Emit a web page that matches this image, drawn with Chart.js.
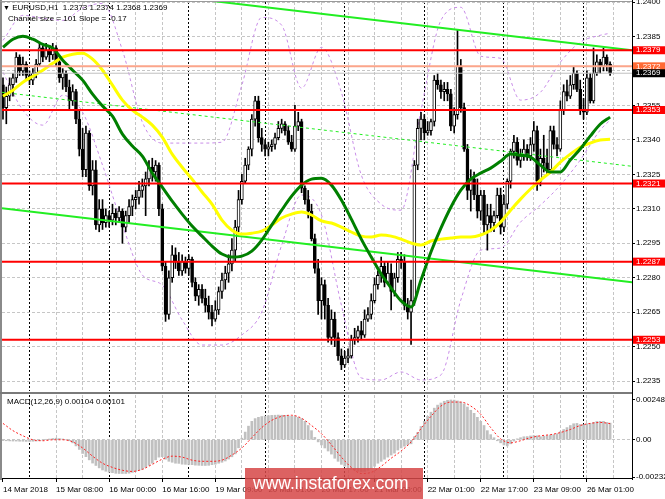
<!DOCTYPE html>
<html>
<head>
<meta charset="utf-8">
<script src="https://cdn.jsdelivr.net/npm/chart.js"></script>
<style>
  html, body { margin: 0; padding: 0; background: #fff; }
  #wrap { position: relative; width: 665px; height: 499px; overflow: hidden; font-family: "Liberation Sans", Arial, sans-serif; }
  #priceBox { position: absolute; left: 0; top: 0; }
  #macdBox { position: absolute; left: 0; top: 393px; }
  .line { position: absolute; }
  .txt { position: absolute; font-size: 8px; line-height: 10px; color: #000; white-space: nowrap; }
  #mark { position: absolute; left: 245px; top: 468px; width: 178px; height: 31px; background: rgba(214, 72, 72, 0.86);
          color: #fff; font-size: 17.5px; line-height: 31px; padding-left: 8px; box-sizing: border-box; white-space: nowrap; }
</style>
</head>
<body>
<div id="wrap">
  <canvas id="priceBox" width="665" height="393"></canvas>
  <canvas id="macdBox" width="665" height="106"></canvas>
  <div class="line" style="left:0;top:0;width:2px;height:480px;background:#8a8a8a"></div>
  <div class="line" style="left:0;top:1px;width:632px;height:1px;background:#9a9a9a"></div>
  <div class="line" style="left:0;top:392px;width:632px;height:2px;background:#7a7a7a"></div>
  <div class="line" style="left:632px;top:0;width:1px;height:480px;background:#000"></div>
  <div class="txt" style="left:3px;top:3px"><span style="font-size:7px">&#9660;</span> EURUSD,H1&nbsp; 1.2373 1.2374 1.2368 1.2369</div>
  <div class="txt" style="left:8px;top:14px">Channel size = 101 Slope = -0.17</div>
  <div class="txt" style="left:7px;top:397px">MACD(12,26,9) 0.00104 0.00101</div>
  <div id="mark">www.instaforex.com</div>
</div>
<script>
// hourly candles, 14 Mar 16:00 .. 26 Mar 09:00 (bar index = position)
const openP = [
  1.2364,1.2354,1.2359,1.2364,1.2367,1.2376,1.2370,1.2373,1.2368,1.2366,
  1.2369,1.2373,1.2380,1.2376,1.2379,1.2377,1.2380,1.2374,1.2367,1.2369,
  1.2363,1.2357,1.2361,1.2349,1.2336,1.2327,1.2343,1.2320,1.2327,1.2303,
  1.2310,1.2304,1.2307,1.2305,1.2308,1.2306,1.2309,1.2302,1.2307,1.2311,
  1.2314,1.2315,1.2318,1.2320,1.2323,1.2328,1.2326,1.2329,1.2310,1.2285,
  1.2264,1.2280,1.2290,1.2287,1.2283,1.2287,1.2284,1.2288,1.2278,1.2272,
  1.2275,1.2271,1.2268,1.2265,1.2262,1.2266,1.2274,1.2279,1.2282,1.2286,
  1.2292,1.2302,1.2314,1.2322,1.2329,1.2336,1.2349,1.2357,1.2341,1.2338,
  1.2336,1.2337,1.2338,1.2341,1.2345,1.2347,1.2344,1.2339,1.2336,1.2346,
  1.2348,1.2319,1.2314,1.2309,1.2297,1.2284,1.2270,1.2277,1.2268,1.2254,
  1.2262,1.2254,1.2246,1.2242,1.2245,1.2246,1.2253,1.2254,1.2257,1.2255,
  1.2262,1.2264,1.2270,1.2277,1.2281,1.2285,1.2278,1.2282,1.2274,1.2280,
  1.2288,1.2287,1.2268,1.2265,1.2270,1.2329,1.2345,1.2349,1.2343,1.2344,
  1.2348,1.2366,1.2364,1.2361,1.2362,1.2360,1.2346,1.2351,1.2372,1.2354,
  1.2336,1.2318,1.2323,1.2316,1.2309,1.2316,1.2303,1.2307,1.2304,1.2307,
  1.2316,1.2302,1.2312,1.2322,1.2335,1.2339,1.2331,1.2333,1.2336,1.2333,
  1.2338,1.2344,1.2322,1.2332,1.2330,1.2327,1.2344,1.2338,1.2336,1.2353,
  1.2361,1.2359,1.2364,1.2369,1.2362,1.2353,1.2352,1.2367,1.2357,1.2369,
  1.2374,1.2372,1.2376,1.2373
];
const highP = [
  1.2367,1.2363,1.2367,1.2369,1.2378,1.2377,1.2376,1.2374,1.2370,1.2371,
  1.2375,1.2382,1.2381,1.2382,1.2381,1.2382,1.2381,1.2375,1.2371,1.2370,
  1.2366,1.2364,1.2362,1.2353,1.2345,1.2346,1.2344,1.2331,1.2331,1.2314,
  1.2314,1.2310,1.2309,1.2312,1.2310,1.2311,1.2310,1.2309,1.2314,1.2316,
  1.2318,1.2322,1.2323,1.2326,1.2331,1.2332,1.2331,1.2330,1.2312,1.2287,
  1.2283,1.2294,1.2293,1.2291,1.2290,1.2289,1.2290,1.2289,1.2280,1.2277,
  1.2277,1.2275,1.2272,1.2268,1.2270,1.2276,1.2282,1.2285,1.2290,1.2297,
  1.2305,1.2318,1.2325,1.2332,1.2337,1.2351,1.2359,1.2359,1.2345,1.2340,
  1.2339,1.2340,1.2343,1.2348,1.2349,1.2348,1.2346,1.2342,1.2355,1.2352,
  1.2349,1.2320,1.2318,1.2312,1.2299,1.2288,1.2280,1.2279,1.2271,1.2266,
  1.2265,1.2256,1.2249,1.2248,1.2249,1.2255,1.2258,1.2259,1.2261,1.2266,
  1.2267,1.2273,1.2280,1.2283,1.2289,1.2287,1.2287,1.2286,1.2282,1.2291,
  1.2291,1.2290,1.2271,1.2279,1.2331,1.2349,1.2352,1.2351,1.2348,1.2349,
  1.2368,1.2369,1.2366,1.2365,1.2365,1.2362,1.2354,1.2388,1.2375,1.2356,
  1.2338,1.2327,1.2326,1.2323,1.2318,1.2318,1.2312,1.2312,1.2309,1.2319,
  1.2319,1.2316,1.2323,1.2336,1.2342,1.2341,1.2336,1.2340,1.2338,1.2341,
  1.2348,1.2346,1.2336,1.2342,1.2336,1.2346,1.2346,1.2341,1.2357,1.2364,
  1.2366,1.2368,1.2372,1.2370,1.2366,1.2358,1.2370,1.2369,1.2380,1.2377,
  1.2375,1.2380,1.2377,1.2374
];
const lowP = [
  1.2349,1.2347,1.2357,1.2359,1.2365,1.2368,1.2368,1.2366,1.2364,1.2364,
  1.2367,1.2372,1.2374,1.2375,1.2374,1.2375,1.2372,1.2365,1.2362,1.2361,
  1.2353,1.2355,1.2347,1.2333,1.2324,1.2324,1.2318,1.2316,1.2301,1.2300,
  1.2301,1.2302,1.2302,1.2303,1.2303,1.2304,1.2295,1.2300,1.2304,1.2307,
  1.2310,1.2312,1.2315,1.2307,1.2320,1.2322,1.2322,1.2307,1.2283,1.2261,
  1.2262,1.2278,1.2284,1.2281,1.2281,1.2282,1.2281,1.2276,1.2270,1.2268,
  1.2269,1.2265,1.2262,1.2259,1.2261,1.2264,1.2271,1.2275,1.2278,1.2283,
  1.2287,1.2300,1.2312,1.2321,1.2327,1.2333,1.2346,1.2339,1.2335,1.2333,
  1.2333,1.2335,1.2336,1.2340,1.2343,1.2342,1.2338,1.2335,1.2335,1.2344,
  1.2317,1.2312,1.2306,1.2296,1.2282,1.2264,1.2262,1.2262,1.2252,1.2251,
  1.2250,1.2244,1.2240,1.2241,1.2243,1.2245,1.2251,1.2252,1.2253,1.2254,
  1.2261,1.2262,1.2269,1.2275,1.2278,1.2276,1.2277,1.2266,1.2272,1.2278,
  1.2284,1.2266,1.2262,1.2251,1.2268,1.2327,1.2340,1.2340,1.2342,1.2342,
  1.2346,1.2362,1.2358,1.2357,1.2357,1.2344,1.2343,1.2349,1.2352,1.2335,
  1.2314,1.2309,1.2314,1.2306,1.2305,1.2299,1.2292,1.2300,1.2300,1.2306,
  1.2299,1.2300,1.2310,1.2319,1.2332,1.2329,1.2328,1.2331,1.2331,1.2331,
  1.2335,1.2318,1.2320,1.2326,1.2325,1.2326,1.2336,1.2333,1.2335,1.2351,
  1.2357,1.2358,1.2362,1.2361,1.2351,1.2349,1.2351,1.2356,1.2356,1.2368,
  1.2369,1.2370,1.2370,1.2368
];
const closeP = [
  1.2354,1.2359,1.2364,1.2367,1.2376,1.2370,1.2373,1.2368,1.2366,1.2369,
  1.2373,1.2380,1.2376,1.2379,1.2377,1.2380,1.2374,1.2367,1.2369,1.2363,
  1.2357,1.2361,1.2349,1.2336,1.2327,1.2343,1.2320,1.2327,1.2303,1.2310,
  1.2304,1.2307,1.2305,1.2308,1.2306,1.2309,1.2302,1.2307,1.2311,1.2314,
  1.2315,1.2318,1.2320,1.2323,1.2328,1.2326,1.2329,1.2310,1.2285,1.2264,
  1.2280,1.2290,1.2287,1.2283,1.2287,1.2284,1.2288,1.2278,1.2272,1.2275,
  1.2271,1.2268,1.2265,1.2262,1.2266,1.2274,1.2279,1.2282,1.2286,1.2292,
  1.2302,1.2314,1.2322,1.2329,1.2336,1.2349,1.2357,1.2341,1.2338,1.2336,
  1.2337,1.2338,1.2341,1.2345,1.2347,1.2344,1.2339,1.2336,1.2346,1.2348,
  1.2319,1.2314,1.2309,1.2297,1.2284,1.2270,1.2277,1.2268,1.2254,1.2262,
  1.2254,1.2246,1.2242,1.2245,1.2246,1.2253,1.2254,1.2257,1.2255,1.2262,
  1.2264,1.2270,1.2277,1.2281,1.2285,1.2278,1.2282,1.2274,1.2280,1.2288,
  1.2287,1.2268,1.2265,1.2270,1.2329,1.2345,1.2349,1.2343,1.2344,1.2348,
  1.2366,1.2364,1.2361,1.2362,1.2360,1.2346,1.2351,1.2372,1.2354,1.2336,
  1.2318,1.2323,1.2316,1.2309,1.2316,1.2303,1.2307,1.2304,1.2307,1.2316,
  1.2302,1.2312,1.2322,1.2335,1.2339,1.2331,1.2333,1.2336,1.2333,1.2338,
  1.2344,1.2322,1.2332,1.2330,1.2327,1.2344,1.2338,1.2336,1.2353,1.2361,
  1.2359,1.2364,1.2369,1.2362,1.2353,1.2352,1.2367,1.2357,1.2369,1.2374,
  1.2372,1.2376,1.2373,1.2369
];

// moving averages, read every 3rd bar
const maBars = [0,3,6,9,12,15,18,21,24,27,30,33,36,39,42,45,48,51,54,57,60,63,66,69,72,75,78,81,84,87,
  90,93,96,99,102,105,108,111,114,117,120,123,126,129,132,135,138,141,144,147,150,153,156,159,162,165,168,171,174,177,180,183];
const maGreen = [
  1.23803,1.23838,1.23851,1.23838,1.23816,1.23799,1.23747,1.23703,1.23660,1.23599,
  1.23547,1.23503,1.23425,1.23373,1.23329,1.23255,1.23194,1.23133,1.23077,1.23025,
  1.22981,1.22938,1.22903,1.22890,1.22894,1.22916,1.22964,1.23029,1.23094,1.23155,
  1.23203,1.23229,1.23233,1.23203,1.23138,1.23055,1.22968,1.22890,1.22816,1.22755,
  1.22699,1.22673,1.22790,1.22912,1.23016,1.23107,1.23181,1.23229,1.23255,1.23277,
  1.23307,1.23338,1.23333,1.23325,1.23290,1.23260,1.23260,1.23312,1.23360,1.23416,
  1.23468,1.23499
];
const maYellow = [
  1.23590,1.23616,1.23651,1.23677,1.23703,1.23733,1.23760,1.23773,1.23777,1.23751,
  1.23703,1.23638,1.23573,1.23529,1.23499,1.23464,1.23412,1.23338,1.23281,1.23229,
  1.23173,1.23120,1.23051,1.23007,1.22990,1.22994,1.23003,1.23029,1.23060,1.23077,
  1.23086,1.23073,1.23047,1.23038,1.23020,1.22999,1.22981,1.22977,1.22986,1.22981,
  1.22968,1.22951,1.22942,1.22960,1.22968,1.22973,1.22977,1.22977,1.22986,1.23007,
  1.23042,1.23094,1.23142,1.23186,1.23225,1.23260,1.23303,1.23338,1.23368,1.23386,
  1.23399,1.23403
];

// band lines, read every 6th bar
const bandBars = [0,6,12,18,24,30,36,42,48,54,60,66,72,78,84,90,96,102,108,114,120,126,132,138,144,150,156,162,168,174,180,183];
const bandUpper = [
  1.23833,1.23942,1.23929,1.23920,1.23973,1.23994,1.23790,1.23477,1.23386,1.23386,
  1.23386,1.23390,1.23638,1.23933,1.23899,1.23625,1.23803,1.23607,1.23247,1.23120,
  1.23094,1.23529,1.23920,1.23977,1.23764,1.23755,1.23573,1.23607,1.23738,1.23825,
  1.23855,1.23864
];
const bandLower = [
  1.23694,1.23529,1.23464,1.23594,1.23520,1.23290,1.23029,1.22812,1.22768,1.22616,
  1.22507,1.22507,1.22551,1.22651,1.22942,1.23160,1.23073,1.22681,1.22364,1.22355,
  1.22390,1.22355,1.22377,1.22703,1.22920,1.22929,1.23042,1.23116,1.23203,1.23312,
  1.23442,1.23486
];

// channel (left edge, right edge)
const chanBars = [-0.3, 189.6];
const chanUpper = [1.24112, 1.23790];
const chanMiddle = [1.23607, 1.23285];
const chanLower = [1.23102, 1.22780];

const redLevels = [1.2379, 1.2353, 1.2321, 1.2287, 1.2253];
const askLevel = 1.2372;
const bidLevel = 1.2369;
const priceTicks = [1.2400, 1.2385, 1.2370, 1.2355, 1.2340, 1.2325, 1.2310, 1.2295, 1.2280, 1.2265, 1.2250, 1.2235];

// MACD(12,26,9)
const macdHist = [
  -0.00005,-0.00006,-0.00007,-0.00008,-0.00008,-0.00009,-0.00009,-0.00010,-0.00010,-0.00009,
  -0.00008,-0.00005,-0.00002,0.00002,0.00005,0.00008,0.00010,0.00008,0.00005,0.00000,
  -0.00006,-0.00019,-0.00038,-0.00060,-0.00085,-0.00105,-0.00125,-0.00145,-0.00160,-0.00175,
  -0.00188,-0.00196,-0.00202,-0.00205,-0.00209,-0.00210,-0.00210,-0.00210,-0.00208,-0.00203,
  -0.00197,-0.00190,-0.00184,-0.00172,-0.00159,-0.00146,-0.00125,-0.00108,-0.00105,-0.00121,
  -0.00134,-0.00140,-0.00146,-0.00147,-0.00152,-0.00153,-0.00154,-0.00155,-0.00158,-0.00159,
  -0.00160,-0.00160,-0.00159,-0.00155,-0.00152,-0.00146,-0.00140,-0.00132,-0.00120,-0.00106,
  -0.00088,-0.00050,0.00010,0.00048,0.00085,0.00115,0.00132,0.00140,0.00145,0.00147,
  0.00150,0.00152,0.00153,0.00154,0.00153,0.00152,0.00149,0.00146,0.00145,0.00140,
  0.00132,0.00115,0.00089,0.00057,0.00015,-0.00013,-0.00032,-0.00051,-0.00070,-0.00089,
  -0.00115,-0.00134,-0.00153,-0.00165,-0.00178,-0.00184,-0.00190,-0.00196,-0.00198,-0.00197,
  -0.00190,-0.00178,-0.00165,-0.00146,-0.00134,-0.00121,-0.00108,-0.00095,-0.00083,-0.00064,
  -0.00051,-0.00040,-0.00032,-0.00025,0.00019,0.00045,0.00083,0.00115,0.00146,0.00172,
  0.00197,0.00216,0.00229,0.00240,0.00246,0.00248,0.00247,0.00242,0.00235,0.00223,
  0.00204,0.00184,0.00165,0.00140,0.00115,0.00089,0.00057,0.00032,0.00013,-0.00006,
  -0.00019,-0.00032,-0.00038,-0.00025,-0.00008,0.00006,0.00013,0.00019,0.00020,0.00024,
  0.00026,0.00025,0.00019,0.00022,0.00025,0.00030,0.00032,0.00038,0.00050,0.00064,
  0.00076,0.00089,0.00100,0.00102,0.00095,0.00094,0.00100,0.00102,0.00108,0.00114,
  0.00115,0.00115,0.00108,0.00104
];
const macdSignal = [
  0.00102,0.00057,0.00025,0.00000,-0.00006,0.00000,0.00000,-0.00013,-0.00051,-0.00102,
  -0.00146,-0.00172,-0.00190,-0.00197,-0.00184,-0.00153,-0.00121,-0.00102,-0.00108,-0.00127,
  -0.00134,-0.00134,-0.00127,-0.00095,-0.00051,0.00013,0.00076,0.00121,0.00146,0.00153,
  0.00134,0.00089,0.00038,-0.00032,-0.00108,-0.00172,-0.00210,-0.00203,-0.00165,-0.00115,
  -0.00070,-0.00013,0.00070,0.00146,0.00210,0.00235,0.00235,0.00210,0.00159,0.00076,
  0.00006,-0.00019,-0.00006,0.00013,0.00025,0.00032,0.00045,0.00064,0.00089,0.00102,
  0.00108,0.00101
];
const macdTicks = [0.00248, 0, -0.00232];

// time axis
const timeLabels = ['14 Mar 2018', '15 Mar 08:00', '16 Mar 00:00', '16 Mar 16:00', '19 Mar 09:00', '20 Mar 01:00',
  '20 Mar 17:00', '21 Mar 09:00', '22 Mar 01:00', '22 Mar 17:00', '23 Mar 09:00', '26 Mar 01:00'];
const gridBars = [0,8,16,24,32,40,48,56,64,72,80,88,96,104,112,120,128,136,144,152,160,168,176,184];
const sepBars = [8,32,56,79,103,127,151,175];

Chart.defaults.font.family = '"Liberation Sans", Arial, sans-serif';
Chart.defaults.font.size = 8;
Chart.defaults.color = '#000';
Chart.defaults.animation = false;
Chart.defaults.events = [];
Chart.defaults.plugins.legend.display = false;
Chart.defaults.plugins.tooltip.enabled = false;

const xMin = -0.3, xMax = 189.6;
const xTicks = [...new Set(gridBars.concat(sepBars))].sort((a, b) => a - b);

function vGridColor(ctx) {
  if (!ctx.tick) return '#c6c6c6';
  const v = ctx.tick.value;
  if (sepBars.includes(v)) return '#000';
  if (v === 0) return 'rgba(0,0,0,0)';
  return '#c6c6c6';
}
function vGridDash(ctx) {
  if (!ctx.tick) return [];
  return sepBars.includes(ctx.tick.value) ? [2, 2] : [3, 2];
}
function hLine(v) {
  return [{ x: xMin, y: v }, { x: xMax, y: v }];
}
function pairs(xs, ys) {
  return xs.map((x, i) => ({ x: x, y: ys[i] }));
}
function noPadX(s) { s.paddingLeft = 0; s.paddingRight = 0; }
function noPadY(s) { s.width = 33; s.paddingTop = 0; s.paddingBottom = 0; }

const bars = closeP.map((c, i) => i);
const wickData = bars.map(i => ({ x: i, y: [lowP[i], highP[i]] }));
const bodyData = bars.map(i => {
  const lo = Math.min(openP[i], closeP[i]);
  const hi = Math.max(openP[i], closeP[i]);
  return { x: i, y: [lo, hi === lo ? hi + 0.00002 : hi] };
});
const bodyFill = bars.map(i => (closeP[i] >= openP[i] ? '#ffffff' : '#000000'));

const levelTicks = redLevels.concat([askLevel, bidLevel]);
const levelBox = redLevels.map(() => '#ff0000').concat(['#ff6a35', '#000000']);

const priceDatasets = [
  { type: 'line', data: pairs(bandBars, bandUpper), borderColor: '#c88ce8', borderWidth: 1, borderDash: [3, 3],
    pointRadius: 0, cubicInterpolationMode: 'monotone', order: 40 },
  { type: 'line', data: pairs(bandBars, bandLower), borderColor: '#c88ce8', borderWidth: 1, borderDash: [3, 3],
    pointRadius: 0, cubicInterpolationMode: 'monotone', order: 40 },
  { type: 'bar', data: wickData, backgroundColor: '#000', barThickness: 1, grouped: false, order: 30 },
  { type: 'bar', data: bodyData, backgroundColor: bodyFill, borderColor: '#000', borderWidth: 1,
    borderSkipped: false, barThickness: 3, grouped: false, order: 29 },
  { type: 'line', data: pairs(chanBars, chanMiddle), borderColor: '#22ee22', borderWidth: 1, borderDash: [3, 3], pointRadius: 0, order: 20 },
  { type: 'line', data: pairs(chanBars, chanUpper), borderColor: '#22ee22', borderWidth: 2, pointRadius: 0, order: 20 },
  { type: 'line', data: pairs(chanBars, chanLower), borderColor: '#22ee22', borderWidth: 2, pointRadius: 0, order: 20 },
  { type: 'line', data: pairs(maBars, maYellow), borderColor: '#ffff00', borderWidth: 3, pointRadius: 0,
    cubicInterpolationMode: 'monotone', order: 12 },
  { type: 'line', data: pairs(maBars, maGreen), borderColor: '#007f00', borderWidth: 3, pointRadius: 0,
    cubicInterpolationMode: 'monotone', order: 11 },
  { type: 'line', data: hLine(bidLevel), borderColor: '#c0c0c0', borderWidth: 1, pointRadius: 0, order: 6 },
  { type: 'line', data: hLine(askLevel), borderColor: '#fba58a', borderWidth: 2, pointRadius: 0, order: 5 }
].concat(redLevels.map(v => ({
  type: 'line', data: hLine(v), borderColor: '#ff0000', borderWidth: 2, pointRadius: 0, order: 4
})));

new Chart(document.getElementById('priceBox'), {
  type: 'bar',
  data: { datasets: priceDatasets },
  options: {
    responsive: false,
    layout: { padding: { left: 2, top: 2, right: 0, bottom: 2 } },
    scales: {
      x: {
        type: 'linear', min: xMin, max: xMax, offset: false,
        afterBuildTicks: s => { s.ticks = xTicks.map(v => ({ value: v })); },
        afterFit: s => { s.height = 0; noPadX(s); },
        ticks: { display: false },
        grid: { offset: false, drawTicks: false, color: vGridColor, lineWidth: 1 },
        border: { display: false, dash: vGridDash }
      },
      y: {
        position: 'right', min: 1.22307, max: 1.2400,
        afterBuildTicks: s => { s.ticks = priceTicks.concat(levelTicks).map(v => ({ value: v })); },
        afterFit: noPadY,
        ticks: {
          autoSkip: false, padding: 1,
          font: { size: 8, lineHeight: 1 },
          callback: v => v.toFixed(4),
          color: ctx => (ctx.index >= priceTicks.length ? '#fff' : '#000'),
          showLabelBackdrop: ctx => ctx.index >= priceTicks.length,
          backdropColor: ctx => levelBox[ctx.index - priceTicks.length] || 'rgba(0,0,0,0)',
          backdropPadding: { top: 0, bottom: 0, left: 3, right: 6 }
        },
        grid: {
          tickLength: 3,
          color: ctx => (ctx.index >= priceTicks.length ? 'rgba(0,0,0,0)' : '#c6c6c6'),
          tickColor: ctx => (ctx.index >= priceTicks.length ? 'rgba(0,0,0,0)' : '#000')
        },
        border: { display: true, color: '#000', width: 1, dash: [3, 2] }
      }
    }
  }
});

new Chart(document.getElementById('macdBox'), {
  type: 'bar',
  data: {
    datasets: [
      { type: 'line', data: pairs(maBars, macdSignal), borderColor: '#ff2020', borderWidth: 1, borderDash: [2, 2],
        pointRadius: 0, cubicInterpolationMode: 'monotone', order: 1 },
      { type: 'bar', data: bars.map(i => ({ x: i, y: macdHist[i] })), backgroundColor: '#c0c0c0',
        barThickness: 2, grouped: false, order: 2 }
    ]
  },
  options: {
    responsive: false,
    layout: { padding: { left: 2, top: 2, right: 0, bottom: 0 } },
    scales: {
      x: {
        type: 'linear', min: xMin, max: xMax, offset: false,
        afterBuildTicks: s => { s.ticks = xTicks.map(v => ({ value: v })); },
        afterFit: s => { s.height = 21; noPadX(s); },
        ticks: {
          autoSkip: false, maxRotation: 0, minRotation: 0, align: 'start', padding: 3,
          callback: v => (v % 16 === 0 && timeLabels[v / 16]) || ''
        },
        grid: {
          offset: false, tickLength: 4, color: vGridColor,
          tickColor: ctx => (ctx.tick && ctx.tick.value % 16 === 0 ? '#000' : 'rgba(0,0,0,0)')
        },
        border: { display: true, color: '#000', dash: vGridDash }
      },
      y: {
        position: 'right', min: -0.00238, max: 0.00279,
        afterBuildTicks: s => { s.ticks = macdTicks.map(v => ({ value: v })); },
        afterFit: noPadY,
        ticks: { autoSkip: false, padding: 1, callback: v => (v === 0 ? '0.00' : v.toFixed(5)) },
        grid: { tickLength: 3, color: ctx => (ctx.index === 1 ? '#c6c6c6' : 'rgba(0,0,0,0)'), tickColor: '#000' },
        border: { display: true, color: '#000', dash: [3, 2] }
      }
    }
  }
});
</script>
</body>
</html>
